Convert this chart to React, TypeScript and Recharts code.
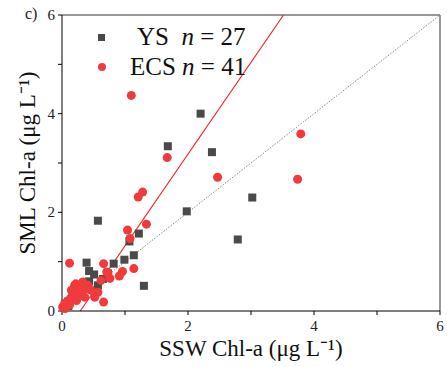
import {
  ReferenceLine,
  Scatter,
  ScatterChart,
  XAxis,
  YAxis,
} from 'recharts';

const SERIF = 'Liberation Serif, Times New Roman, Times, serif';

// YS stations: SSW vs SML chlorophyll-a (µg/L)
const ysSsw = [2.2, 1.68, 2.38, 3.02, 1.98, 2.79, 0.57, 1.22, 1.07, 1.14, 0.99, 0.82, 1.3, 0.39, 0.43, 0.51, 0.73, 0.57, 0.43, 0.3, 0.2, 0.05, 0.15, 0.25, 0.35, 0.65, 0.1];
const ysSml = [4.0, 3.34, 3.22, 2.3, 2.02, 1.45, 1.83, 1.57, 1.41, 1.13, 1.04, 0.96, 0.51, 0.98, 0.81, 0.74, 0.76, 0.52, 0.6, 0.44, 0.35, 0.15, 0.25, 0.3, 0.5, 0.65, 0.1];

// ECS stations
const ecsSsw = [1.1, 3.79, 1.67, 2.47, 3.74, 1.28, 1.21, 1.34, 1.04, 1.08, 0.66, 1.14, 0.96, 0.91, 0.71, 0.76, 0.12, 0.66, 0.73, 0.2, 0.33, 0.41, 0.46, 0.52, 0.36, 0.17, 0.09, 0.01, 0.23, 0.15, 0.04, 0.57, 0.28, 0.22, 0.3, 0.25, 0.62, 0.18, 0.4, 0.05, 0.12];
const ecsSml = [4.37, 3.59, 3.11, 2.71, 2.67, 2.41, 2.31, 1.76, 1.64, 1.47, 0.96, 0.86, 0.8, 0.71, 0.79, 0.66, 0.97, 0.18, 0.77, 0.52, 0.59, 0.52, 0.42, 0.28, 0.28, 0.35, 0.21, 0.08, 0.21, 0.42, 0.15, 0.38, 0.45, 0.55, 0.36, 0.3, 0.62, 0.25, 0.45, 0.05, 0.12];

const axisTicks = [0, 1, 2, 3, 4, 5, 6];
const labelledTicks = [0, 2, 4, 6];

// ECS linear fit (y = a*x + b) and the 1:1 line
const fitSlope = 1.86;
const fitIntercept = -0.54;
const oneToOne = [0, 6];

const ysData = ysSsw.map((x, i) => ({ x, y: ysSml[i] }));
const ecsData = ecsSsw.map((x, i) => ({ x, y: ecsSml[i] }));

const fitStart = { x: -fitIntercept / fitSlope, y: 0 };
const fitEnd = { x: (6 - fitIntercept) / fitSlope, y: 6 };

const SquareDot = (props: any) => (
  <rect x={props.cx - 4} y={props.cy - 4} width={8} height={8} fill="#4a4a4a" />
);
const RoundDot = (props: any) => (
  <circle cx={props.cx} cy={props.cy} r={4.5} fill="#ef3b3b" />
);

const XTick = ({ x, y, payload }: any) =>
  labelledTicks.includes(payload.value) ? (
    <text x={x} y={y + 14} textAnchor="middle" fontSize={15} fill="#222" fontFamily={SERIF}>
      {payload.value}
    </text>
  ) : null;

const YTick = ({ x, y, payload }: any) =>
  labelledTicks.includes(payload.value) ? (
    <text x={x - 1} y={y + 5} textAnchor="end" fontSize={15} fill="#222" fontFamily={SERIF}>
      {payload.value}
    </text>
  ) : null;

export default function App() {
  return (
    <div style={{ position: 'absolute', left: 0, top: 0, width: 447, height: 367 }}>
      <ScatterChart
        width={447}
        height={367}
        margin={{ top: 15, right: 7, left: 0, bottom: 0 }}
      >
        <XAxis
          type="number"
          dataKey="x"
          domain={[0, 6]}
          ticks={axisTicks}
          interval={0}
          height={56}
          stroke="#000"
          tickSize={4}
          tick={<XTick />}
          label={{
            value: 'SSW Chl-a (μg L⁻¹)',
            position: 'insideBottom',
            offset: 11,
            style: { fontSize: 23, fill: '#111', fontFamily: SERIF },
          }}
        />
        <YAxis
          type="number"
          dataKey="y"
          domain={[0, 6]}
          ticks={axisTicks}
          interval={0}
          width={62}
          stroke="#000"
          tickSize={4}
          tick={<YTick />}
          label={{
            value: 'SML Chl-a (μg L⁻¹)',
            angle: -90,
            position: 'insideLeft',
            offset: 27,
            style: { fontSize: 23, fill: '#111', fontFamily: SERIF, textAnchor: 'middle' },
          }}
        />
        <ReferenceLine y={6} stroke="#777" strokeWidth={1.5} />
        <ReferenceLine x={6} stroke="#777" strokeWidth={1.5} />
        <ReferenceLine
          segment={[
            { x: oneToOne[0], y: oneToOne[0] },
            { x: oneToOne[1], y: oneToOne[1] },
          ]}
          stroke="#888"
          strokeDasharray="1.5 1.5"
        />
        <Scatter data={ysData} shape={SquareDot} isAnimationActive={false} />
        <Scatter data={ecsData} shape={RoundDot} isAnimationActive={false} />
        <ReferenceLine segment={[fitStart, fitEnd]} stroke="#ff2020" strokeWidth={1.2} />
      </ScatterChart>
      <div
        style={{
          position: 'absolute',
          left: 25,
          top: 5,
          fontFamily: SERIF,
          fontSize: 16,
          color: '#222',
        }}
      >
        c)
      </div>
      <div
        style={{
          position: 'absolute',
          left: 98,
          top: 22,
          fontFamily: SERIF,
          fontSize: 25,
          color: '#111',
          lineHeight: '30px',
        }}
      >
        <div style={{ display: 'flex', alignItems: 'center' }}>
          <span style={{ width: 7, height: 7, background: '#4a4a4a', marginRight: 32 }} />
          <span>
            YS&nbsp;&nbsp;<i>n</i> = 27
          </span>
        </div>
        <div style={{ display: 'flex', alignItems: 'center' }}>
          <span
            style={{ width: 8, height: 8, borderRadius: 4, background: '#ef3b3b', marginRight: 24 }}
          />
          <span>
            ECS <i>n</i> = 41
          </span>
        </div>
      </div>
    </div>
  );
}
